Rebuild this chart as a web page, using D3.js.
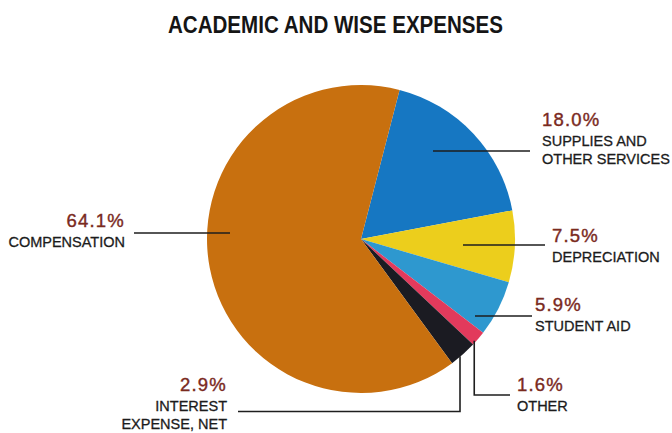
<!DOCTYPE html>
<html>
<head>
<meta charset="utf-8">
<script src="https://cdn.jsdelivr.net/npm/d3@7"></script>
<style>
  body { margin: 0; background: #fff; }
  text { font-family: "Liberation Sans", Arial, sans-serif; }
</style>
</head>
<body>
<div class="chart"></div>
<script>
let width = 672, height = 433;

// data (clockwise from the top, as printed)
let categories = ["Supplies", "Depreciation", "Student aid", "Other", "Interest", "Compensation"];
let shares = [18.0, 7.5, 5.9, 1.6, 2.9, 64.1];
let pctLabels = ["18.0%", "7.5%", "5.9%", "1.6%", "2.9%", "64.1%"];
let nameLines = [
    ["SUPPLIES AND", "OTHER SERVICES"],
    ["DEPRECIATION"],
    ["STUDENT AID"],
    ["OTHER"],
    ["INTEREST", "EXPENSE, NET"],
    ["COMPENSATION"]
];
let colors = ["#1677c2", "#ecce1c", "#2e98cf", "#e23a5c", "#1b1b22", "#c8700f"];

let cx = 361, cy = 239, radius = 154;
let startDeg = 14.5;

// label layout: text anchor x, percent baseline, leader line
let layout = [
    { x: 542, y: 126, anchor: "start", line: { y: 151, x1: 433, x2: 530 } },
    { x: 552, y: 242, anchor: "start", line: { y: 245, x1: 463, x2: 545 } },
    { x: 535, y: 311, anchor: "start", line: { y: 316, x1: 475, x2: 532 } },
    { x: 517, y: 391, anchor: "start", elbow: { y: 395, x2: 510, nudge: -4 } },
    { x: 227, y: 391, anchor: "end", elbow: { y: 411.5, x2: 238, nudge: -3 } },
    { x: 125, y: 227, anchor: "end", line: { y: 233, x1: 230, x2: 134 } }
];

let svg = d3.select(".chart").append("svg")
    .attr("width", width)
    .attr("height", height);

svg.append("text")
    .attr("x", 168)
    .attr("y", 33)
    .attr("textLength", 335)
    .attr("lengthAdjust", "spacingAndGlyphs")
    .style("font-weight", "bold")
    .style("font-size", "24px")
    .style("fill", "#151515")
    .text("ACADEMIC AND WISE EXPENSES");

let pie = d3.pie().sort(null)
    .startAngle(startDeg * Math.PI / 180)
    .endAngle(startDeg * Math.PI / 180 + 2 * Math.PI);
let arcs = pie(shares);
let arc = d3.arc().innerRadius(0).outerRadius(radius);

let g = svg.append("g").attr("transform", `translate(${cx},${cy})`);

g.selectAll("path")
    .data(arcs)
    .join("path")
    .attr("d", arc)
    .attr("fill", (d, i) => colors[i]);

// leader lines
arcs.forEach((d, i) => {
    let l = layout[i];
    if (l.line) {
        svg.append("line")
            .attr("x1", l.line.x1).attr("x2", l.line.x2)
            .attr("y1", l.line.y).attr("y2", l.line.y)
            .attr("stroke", "#1e1e1e")
            .attr("stroke-width", 1.6);
    } else {
        let mid = (d.startAngle + d.endAngle) / 2;
        let px = cx + radius * Math.sin(mid) + l.elbow.nudge;
        let py = cy - radius * Math.cos(mid) + 2;
        svg.append("polyline")
            .attr("points", [[px, py], [px, l.elbow.y], [l.elbow.x2, l.elbow.y]].join(" "))
            .attr("fill", "none")
            .attr("stroke", "#1e1e1e")
            .attr("stroke-width", 1.6);
    }
});

// labels
layout.forEach((l, i) => {
    let t = svg.append("text")
        .attr("x", l.x)
        .attr("y", l.y)
        .attr("text-anchor", l.anchor);
    t.append("tspan")
        .attr("x", l.x)
        .style("font-size", "18.5px")
        .style("letter-spacing", "1.2px")
        .style("fill", "#7a2a1e")
        .style("stroke", "#7a2a1e")
        .style("stroke-width", 0.4)
        .text(pctLabels[i]);
    nameLines[i].forEach((s, k) => {
        t.append("tspan")
            .attr("x", l.x)
            .attr("dy", k === 0 ? 20 : 18)
            .style("font-size", "14.5px")
            .style("fill", "#1c1c1c")
            .style("stroke", "#1c1c1c")
            .style("stroke-width", 0.3)
            .text(s);
    });
});
</script>
</body>
</html>
